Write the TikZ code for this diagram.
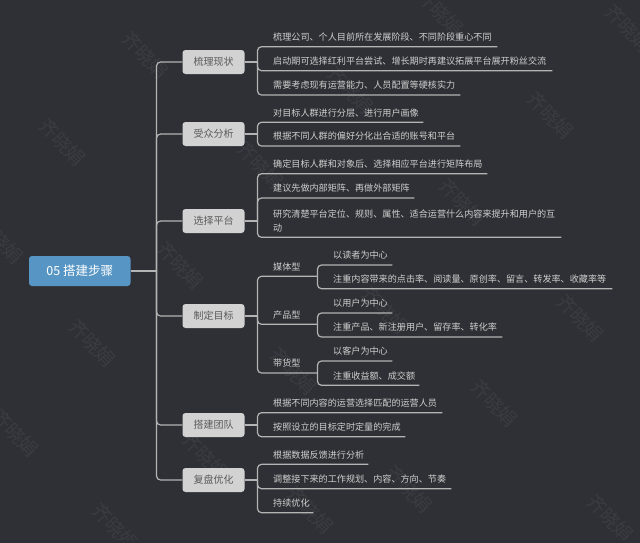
\documentclass[tikz,border=0pt]{standalone}
\usepackage{fontspec}
\setmainfont{Noto Sans CJK SC}
\definecolor{bgc}{HTML}{2F3035}
\definecolor{linkc}{HTML}{B4B4B4}
\definecolor{leaftxt}{HTML}{CFCFCF}
\definecolor{branchfill}{HTML}{D2D2D2}
\definecolor{branchtxt}{HTML}{5A5A5A}
\definecolor{rootfill}{HTML}{5796C4}
\definecolor{wmc}{HTML}{3B3C41}
\tikzset{
  x=1pt,y=-1pt,
  link/.style={draw=linkc,line width=1.2pt},
  curved/.style={link,rounded corners=4pt},
  rootnode/.style={fill=rootfill,rounded corners=3pt,text=white,minimum width=101.5pt,minimum height=30pt,inner sep=0pt,font=\fontsize{12.5}{14}\selectfont},
  branch/.style={fill=branchfill,rounded corners=3pt,text=branchtxt,minimum width=62pt,minimum height=24pt,inner sep=0pt,font=\fontsize{10}{12}\selectfont},
  leafnode/.style={anchor=south west,inner sep=0pt,text=leaftxt,text depth=6pt,align=left,font=\fontsize{9.1}{14}\selectfont},
  typenode/.style={anchor=south west,inner sep=0pt,text=leaftxt,text depth=6pt,font=\fontsize{9.1}{11}\selectfont},
  wm/.style={text=wmc,rotate=-47,font=\fontsize{19}{19}\selectfont,inner sep=0pt},
}
\newcommand{\leaf}[5]{\node[leafnode,text width={(#4-#2)*1pt}] (#1) at (#2,#3) {#5};}
\begin{document}
\begin{tikzpicture}
\useasboundingbox (0,0) rectangle (640,542);
\fill[bgc] (-5,-5) rectangle (645,547);
% watermarks
\begin{scope}
\clip (0,0) rectangle (640,539);
\foreach \wx/\wy in {145/55,62/142,260/165,180/265,440/12,628/28,550/115,462/202,350/90,92/343,15/433,293/371,205/456,115/527,580/318,494/403,409/489,610/518,385/310,0/240,310/510}
  \node[wm] at (\wx,\wy) {齐晓娟};
\end{scope}
% root and branches
\node[rootnode] (root) at (79.75,271) {05 搭建步骤};
\node[branch] (b1) at (213.5,62) {梳理现状};
\node[branch] (b2) at (213.5,134) {受众分析};
\node[branch] (b3) at (213.5,221) {选择平台};
\node[branch] (b4) at (213.5,316) {制定目标};
\node[branch] (b5) at (213.5,425) {搭建团队};
\node[branch] (b6) at (213.5,480) {复盘优化};
% leaves
\leaf{l11}{273}{46.7}{497}{梳理公司、个人目前所在发展阶段、不同阶段重心不同}
\leaf{l12}{273}{70.7}{552}{启动期可选择红利平台尝试、增长期时再建议拓展平台展开粉丝交流}
\leaf{l13}{273}{95}{460}{需要考虑现有运营能力、人员配置等硬核实力}
\leaf{l21}{273}{122.3}{423}{对目标人群进行分层、进行用户画像}
\leaf{l22}{273}{146}{460}{根据不同人群的偏好分化出合适的账号和平台}
\leaf{l31}{273}{173.7}{487}{确定目标人群和对象后、选择相应平台进行矩阵布局}
\leaf{l32}{273}{198}{414}{建议先做内部矩阵、再做外部矩阵}
\node[leafnode,text depth=20pt,text width=288pt] (l33) at (273,237.3) {研究清楚平台定位、规则、属性、适合运营什么内容来提升和用户的互\\动};
\leaf{l51}{273}{412.7}{442}{根据不同内容的运营选择匹配的运营人员}
\leaf{l52}{273}{436.7}{405}{按照设立的目标定时定量的完成}
\leaf{l61}{273}{464.3}{368}{根据数据反馈进行分析}
\leaf{l62}{273}{488.7}{451}{调整接下来的工作规划、内容、方向、节奏}
\leaf{l63}{273}{512.7}{313}{持续优化}
\node[typenode] (t1) at (273,276.3) {媒体型};
\node[typenode] (t2) at (273,324.3) {产品型};
\node[typenode] (t3) at (273,373) {带货型};
\leaf{s11}{333}{265}{392}{以读者为中心}
\leaf{s12}{333}{288.7}{612}{注重内容带来的点击率、阅读量、原创率、留言、转发率、收藏率等}
\leaf{s21}{333}{313}{392}{以用户为中心}
\leaf{s22}{333}{337}{502}{注重产品、新注册用户、留存率、转化率}
\leaf{s31}{333}{361}{392}{以客户为中心}
\leaf{s32}{333}{385.3}{419}{注重收益额、成交额}
% junction points
\coordinate (trunk) at (156.5,271);
\foreach \n/\cy in {1/62,2/134,3/221,4/316,5/425,6/480}
  \coordinate (j\n) at (257.5,\cy);
\coordinate (k1) at (317.5,276.3);
\coordinate (k2) at (317.5,324.3);
\coordinate (k3) at (317.5,373);
% connectors
\draw[link] (root.east) -- (trunk);
\foreach \n in {1,...,6} {
  \draw[curved] (trunk) |- (b\n.west);
  \draw[link] (b\n.east) -- (j\n);
}
\foreach \l in {l11,l12,l13} \draw[curved] (j1) |- (\l.south east);
\foreach \l in {l21,l22} \draw[curved] (j2) |- (\l.south east);
\foreach \l in {l31,l32,l33} \draw[curved] (j3) |- (\l.south east);
\foreach \l in {k1,k2,k3} \draw[curved] (j4) |- (\l);
\foreach \l in {l51,l52} \draw[curved] (j5) |- (\l.south east);
\foreach \l in {l61,l62,l63} \draw[curved] (j6) |- (\l.south east);
\foreach \l in {s11,s12} \draw[curved] (k1) |- (\l.south east);
\foreach \l in {s21,s22} \draw[curved] (k2) |- (\l.south east);
\foreach \l in {s31,s32} \draw[curved] (k3) |- (\l.south east);
\end{tikzpicture}
\end{document}
